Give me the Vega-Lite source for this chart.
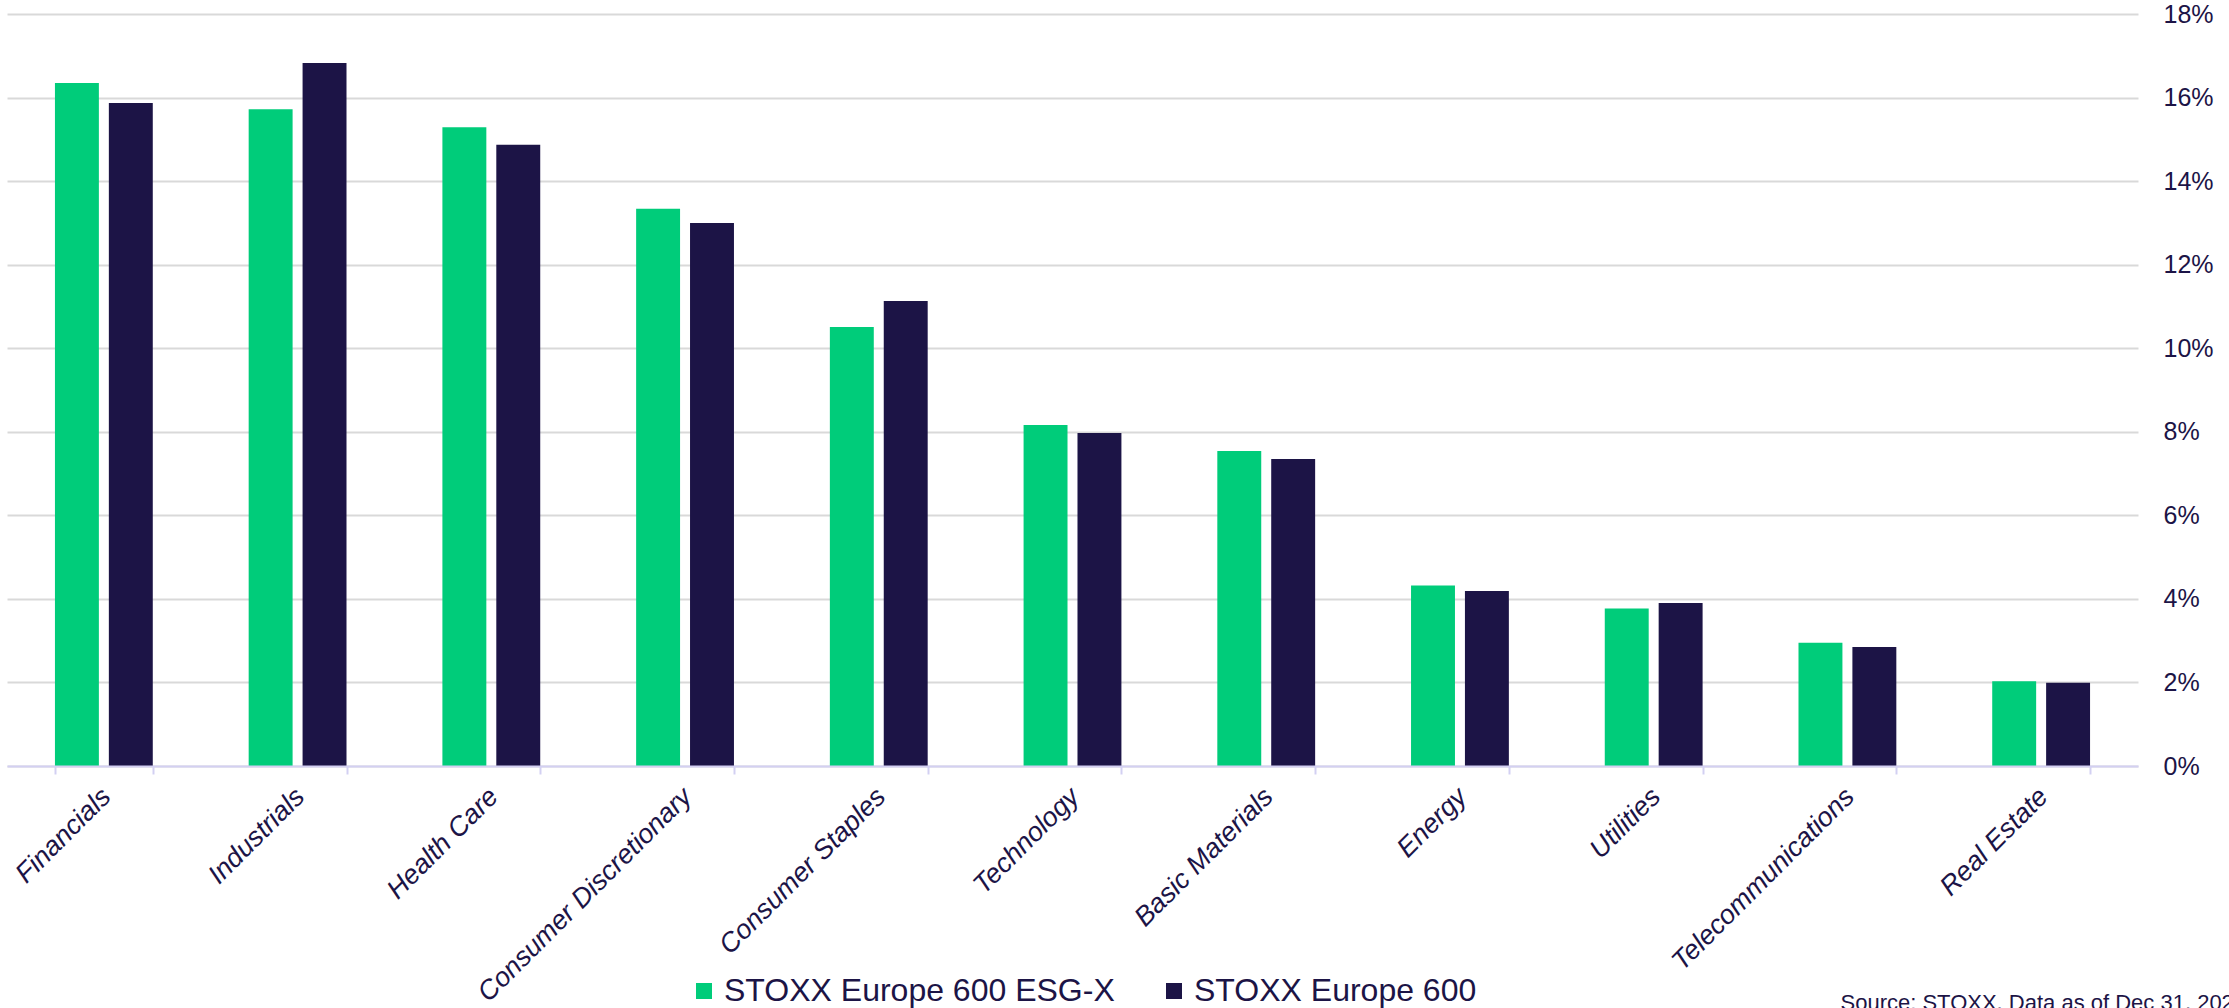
{
  "$schema": "https://vega.github.io/schema/vega-lite/v6.json",
  "width": 2131,
  "height": 752,
  "autosize": {"type": "none"},
  "padding": {"left": 7, "top": 14, "right": 91, "bottom": 242},
  "background": "white",
  "config": {"view": {"stroke": null}, "font": "Liberation Sans"},
  "data": {
    "values": [
      {"sector": "Financials", "index": "STOXX Europe 600 ESG-X", "weight": 0.1635},
      {"sector": "Financials", "index": "STOXX Europe 600", "weight": 0.1587},
      {"sector": "Industrials", "index": "STOXX Europe 600 ESG-X", "weight": 0.1572},
      {"sector": "Industrials", "index": "STOXX Europe 600", "weight": 0.1683},
      {"sector": "Health Care", "index": "STOXX Europe 600 ESG-X", "weight": 0.1529},
      {"sector": "Health Care", "index": "STOXX Europe 600", "weight": 0.1487},
      {"sector": "Consumer Discretionary", "index": "STOXX Europe 600 ESG-X", "weight": 0.1334},
      {"sector": "Consumer Discretionary", "index": "STOXX Europe 600", "weight": 0.1300},
      {"sector": "Consumer Staples", "index": "STOXX Europe 600 ESG-X", "weight": 0.1051},
      {"sector": "Consumer Staples", "index": "STOXX Europe 600", "weight": 0.1113},
      {"sector": "Technology", "index": "STOXX Europe 600 ESG-X", "weight": 0.0816},
      {"sector": "Technology", "index": "STOXX Europe 600", "weight": 0.0797},
      {"sector": "Basic Materials", "index": "STOXX Europe 600 ESG-X", "weight": 0.0754},
      {"sector": "Basic Materials", "index": "STOXX Europe 600", "weight": 0.0735},
      {"sector": "Energy", "index": "STOXX Europe 600 ESG-X", "weight": 0.0432},
      {"sector": "Energy", "index": "STOXX Europe 600", "weight": 0.0419},
      {"sector": "Utilities", "index": "STOXX Europe 600 ESG-X", "weight": 0.0377},
      {"sector": "Utilities", "index": "STOXX Europe 600", "weight": 0.0390},
      {"sector": "Telecommunications", "index": "STOXX Europe 600 ESG-X", "weight": 0.0295},
      {"sector": "Telecommunications", "index": "STOXX Europe 600", "weight": 0.0285},
      {"sector": "Real Estate", "index": "STOXX Europe 600 ESG-X", "weight": 0.0203},
      {"sector": "Real Estate", "index": "STOXX Europe 600", "weight": 0.0199}
    ]
  },
  "mark": {"type": "bar"},
  "encoding": {
    "x": {
      "field": "sector",
      "type": "nominal",
      "sort": null,
      "title": "Source: STOXX, Data as of Dec 31, 2021",
      "scale": {"paddingInner": 0.495, "paddingOuter": 0.2475},
      "axis": {
        "orient": "bottom",
        "zindex": 1,
        "domainColor": "#d3d0f2",
        "domainWidth": 2,
        "tickBand": "extent",
        "tickColor": "#d3d0f2",
        "tickWidth": 2,
        "tickSize": 8,
        "labelAngle": -45,
        "labelAlign": "right",
        "labelBaseline": "top",
        "labelFont": "Liberation Sans",
        "labelFontSize": 27,
        "labelFontStyle": "italic",
        "labelColor": "#1c1446",
        "labelPadding": 9,
        "labelOffset": -7,
        "labelLimit": 600,
        "labelOverlap": false,
        "labelBound": false,
        "labelFlush": false,
        "grid": false,
        "titleX": 1833,
        "titleY": 243,
        "titleAlign": "left",
        "titleAnchor": "start",
        "titleBaseline": "alphabetic",
        "titleAngle": 0,
        "titleFont": "Liberation Sans",
        "titleFontSize": 22,
        "titleFontWeight": "normal",
        "titleColor": "#1c1446"
      }
    },
    "xOffset": {
      "field": "index",
      "type": "nominal",
      "sort": ["STOXX Europe 600 ESG-X", "STOXX Europe 600"],
      "scale": {"paddingInner": 0.185, "paddingOuter": 0}
    },
    "y": {
      "field": "weight",
      "type": "quantitative",
      "title": null,
      "scale": {"domain": [0, 0.18], "nice": false},
      "axis": {
        "orient": "right",
        "values": [0, 0.02, 0.04, 0.06, 0.08, 0.1, 0.12, 0.14, 0.16, 0.18],
        "format": ".0%",
        "domain": false,
        "ticks": false,
        "grid": true,
        "gridColor": "#d9d9d9",
        "gridWidth": 2,
        "labelPadding": 25,
        "labelFont": "Liberation Sans",
        "labelFontSize": 25,
        "labelColor": "#1c1446",
        "labelAlign": "left",
        "labelBaseline": "middle"
      }
    },
    "color": {
      "field": "index",
      "type": "nominal",
      "scale": {
        "domain": ["STOXX Europe 600 ESG-X", "STOXX Europe 600"],
        "range": ["#00cc7a", "#1c1446"]
      },
      "legend": {
        "orient": "none",
        "legendX": 681,
        "legendY": 961,
        "direction": "horizontal",
        "title": null,
        "padding": 0,
        "symbolType": "square",
        "symbolSize": 256,
        "symbolStrokeWidth": 0,
        "symbolOpacity": 1,
        "labelFont": "Liberation Sans",
        "labelFontSize": 32,
        "labelColor": "#1c1446",
        "labelOffset": 4,
        "labelLimit": 800,
        "columnPadding": 43
      }
    }
  }
}
